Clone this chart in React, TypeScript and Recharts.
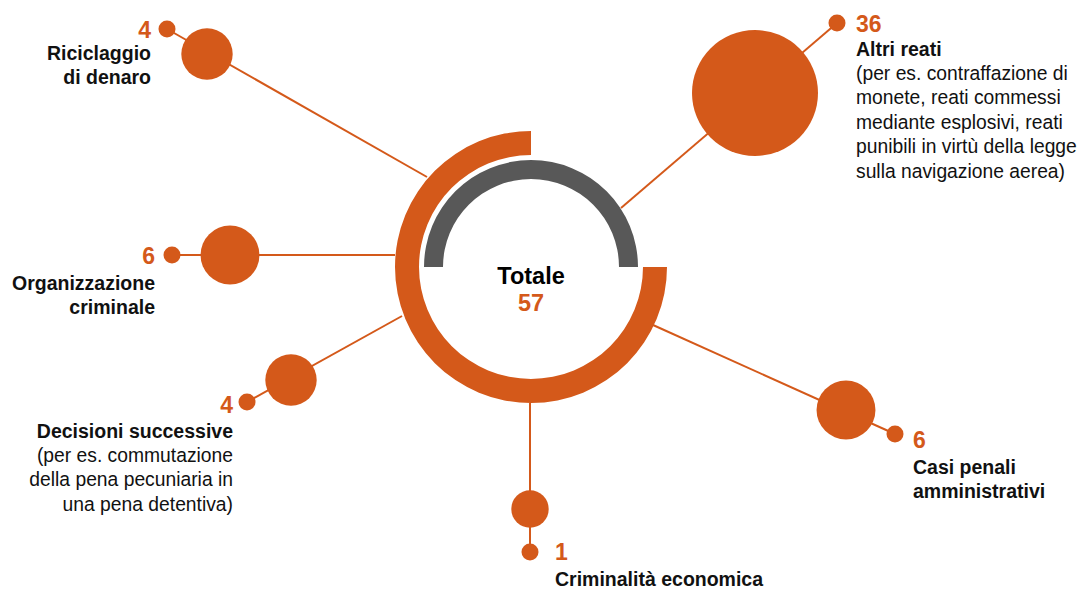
import { ScatterChart, Scatter, XAxis, YAxis, ZAxis, PieChart, Pie } from 'recharts'

const W = 1087
const H = 590
const ORANGE = '#d4591a'
const GREY = '#585858'
const FONT = '"Liberation Sans", Arial, Helvetica, sans-serif'

// chart data
const categories = [
  'Riciclaggio di denaro',
  'Altri reati',
  'Organizzazione criminale',
  'Decisioni successive',
  'Casi penali amministrativi',
  'Criminalità economica',
]
const values = [4, 36, 6, 4, 6, 1]
const titleLines = [
  ['Riciclaggio', 'di denaro'],
  ['Altri reati'],
  ['Organizzazione', 'criminale'],
  ['Decisioni successive'],
  ['Casi penali', 'amministrativi'],
  ['Criminalità economica'],
]
const noteLines = [
  [],
  [
    '(per es. contraffazione di',
    'monete, reati commessi',
    'mediante esplosivi, reati',
    'punibili in virtù della legge',
    'sulla navigazione aerea)',
  ],
  [],
  ['(per es. commutazione', 'della pena pecuniaria in', 'una pena detentiva)'],
  [],
  [],
]
const totalLabel = 'Totale'
const total = values.reduce((a, b) => a + b, 0)

// layout (pixel space of the 1087x590 canvas)
const CENTER = { x: 531, y: 267 }
const layout = [
  { ring: [427, 177], bubble: [207, 54], dot: [167, 29], anchor: 'end', dx: -16, numDy: 1, labelDy: 24 },
  { ring: [621, 208], bubble: [755, 93], dot: [837, 23], anchor: 'start', dx: 19, numDy: 1, labelDy: 26 },
  { ring: [395, 255], bubble: [230, 255], dot: [172, 255], anchor: 'end', dx: -17, numDy: 1, labelDy: 28 },
  { ring: [402, 316], bubble: [291, 380], dot: [247, 402], anchor: 'end', dx: -14, numDy: 3, labelDy: 29 },
  { ring: [653, 325], bubble: [846, 410], dot: [895, 434], anchor: 'start', dx: 18, numDy: 6, labelDy: 33 },
  { ring: [530, 403], bubble: [530, 509], dot: [530, 552], anchor: 'start', dx: 25, numDy: 0, labelDy: 27 },
]
const LINE_H = 24.4

const bubbleData = categories.map((name, i) => ({
  name,
  value: values[i],
  x: layout[i].bubble[0],
  y: layout[i].bubble[1],
}))

const dotData = categories.map((name, i) => ({
  name,
  index: i,
  value: values[i],
  x: layout[i].dot[0],
  y: layout[i].dot[1],
}))

const connectors = categories.map((name, i) => [
  { name, x: layout[i].ring[0], y: layout[i].ring[1] },
  { name, x: layout[i].dot[0], y: layout[i].dot[1] },
])

const ringData = [{ name: totalLabel, value: total }]

const DotWithLabel = (props: any) => {
  const { cx, cy, payload } = props
  const i = payload.index
  const l = layout[i]
  const tx = cx + l.dx
  const titles = titleLines[i]
  const notes = noteLines[i]
  return (
    <g>
      <circle cx={cx} cy={cy} r={8.5} fill={ORANGE} />
      <text
        x={tx}
        y={cy + l.numDy}
        textAnchor={l.anchor}
        dominantBaseline="central"
        fontFamily={FONT}
        fontSize={23}
        fontWeight="bold"
        fill={ORANGE}
      >
        {payload.value}
      </text>
      {titles.map((t, k) => (
        <text
          key={'t' + k}
          x={tx}
          y={cy + l.labelDy + k * LINE_H}
          textAnchor={l.anchor}
          dominantBaseline="central"
          fontFamily={FONT}
          fontSize={19.5}
          fontWeight="bold"
          fill="#111"
        >
          {t}
        </text>
      ))}
      {notes.map((t, k) => (
        <text
          key={'n' + k}
          x={tx}
          y={cy + l.labelDy + (titles.length + k) * LINE_H}
          textAnchor={l.anchor}
          dominantBaseline="central"
          fontFamily={FONT}
          fontSize={19.3}
          fill="#111"
        >
          {t}
        </text>
      ))}
    </g>
  )
}

const App = () => {
  return (
    <div style={{ position: 'absolute', left: 0, top: 0, width: W, height: H, background: '#fff' }}>
      <div style={{ position: 'absolute', left: 0, top: 0 }}>
        <PieChart width={W} height={H} margin={{ top: 0, right: 0, bottom: 0, left: 0 }}>
          <Pie
            data={ringData}
            dataKey="value"
            cx={CENTER.x}
            cy={CENTER.y}
            innerRadius={112}
            outerRadius={136}
            startAngle={90}
            endAngle={360}
            fill={ORANGE}
            stroke="none"
            isAnimationActive={false}
          />
          <Pie
            data={ringData}
            dataKey="value"
            cx={CENTER.x}
            cy={CENTER.y}
            innerRadius={88}
            outerRadius={107}
            startAngle={0}
            endAngle={180}
            fill={GREY}
            stroke="none"
            isAnimationActive={false}
          />
          <text
            x={CENTER.x}
            y={276}
            textAnchor="middle"
            dominantBaseline="central"
            fontFamily={FONT}
            fontSize={23.5}
            fontWeight="bold"
            fill="#000"
          >
            {totalLabel}
          </text>
          <text
            x={CENTER.x}
            y={303}
            textAnchor="middle"
            dominantBaseline="central"
            fontFamily={FONT}
            fontSize={23.5}
            fontWeight="bold"
            fill={ORANGE}
          >
            {total}
          </text>
        </PieChart>
      </div>
      <div style={{ position: 'absolute', left: 0, top: 0 }}>
        <ScatterChart width={W} height={H} margin={{ top: 0, right: 0, bottom: 0, left: 0 }}>
          <XAxis type="number" dataKey="x" domain={[0, W]} hide />
          <YAxis type="number" dataKey="y" domain={[0, H]} reversed hide />
          <ZAxis zAxisId="bubble" type="number" dataKey="value" domain={[1, 36]} range={[1100, 12470]} />
          <ZAxis zAxisId="dot" type="number" dataKey="value" range={[200, 200]} />
          {connectors.map((seg, i) => (
            <Scatter
              key={'c' + i}
              data={seg}
              zAxisId="dot"
              line={{ stroke: ORANGE, strokeWidth: 2 }}
              shape={() => <g />}
              fill={ORANGE}
              isAnimationActive={false}
            />
          ))}
          <Scatter data={bubbleData} zAxisId="bubble" fill={ORANGE} shape="circle" isAnimationActive={false} />
          <Scatter data={dotData} zAxisId="dot" fill={ORANGE} shape={DotWithLabel} isAnimationActive={false} />
        </ScatterChart>
      </div>
    </div>
  )
}

export default App
